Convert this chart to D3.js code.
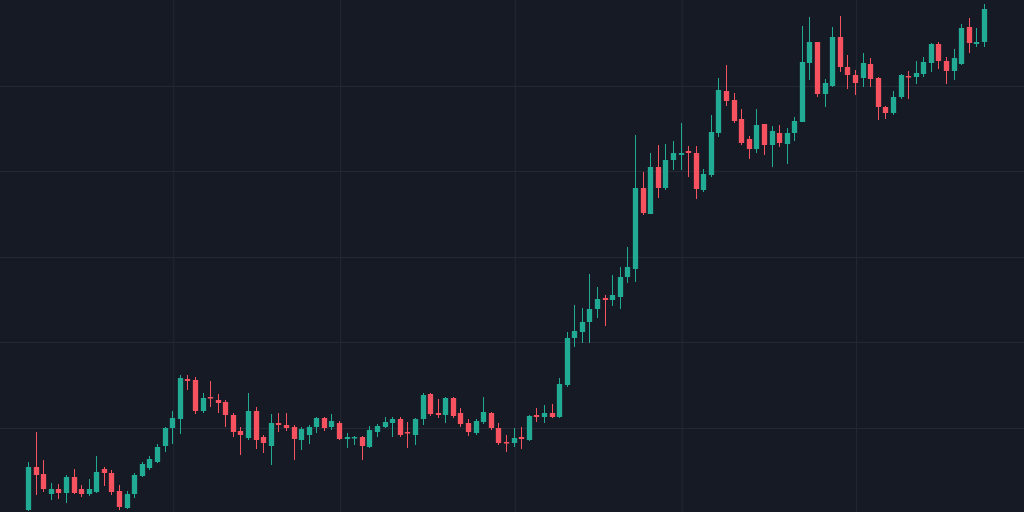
<!DOCTYPE html>
<html>
<head>
<meta charset="utf-8">
<script src="https://cdn.jsdelivr.net/npm/d3@7"></script>
<style>
  html, body { margin: 0; padding: 0; background: #161a25; }
  svg { display: block; }
</style>
</head>
<body>
<svg id="chart" width="1024" height="512"></svg>
<script>
// price values, one entry per bar
var opens = [2,45,38,18,23,19,35,23,18,20,43,39,21,4,18,36,44,50,66,84,93,133,132,101,115,112,110,97,81,74,
  101,75,66,89,87,85,72,77,85,94,85,89,73,74,75,65,80,85,89,93,80,77,93,118,99,97,114,99,89,79,
  90,99,84,70,69,75,72,97,95,99,95,127,174,180,190,203,214,212,215,235,243,324,298,345,324,352,357,361,359,322,
  337,379,421,412,393,373,363,388,367,379,368,379,390,449,470,418,426,475,445,437,434,448,434,405,399,415,436,435,438,449,
  468,451,441,448,485,468,470];
var highs = [50,80,52,29,28,37,43,27,33,56,45,42,27,21,39,50,56,68,85,101,137,137,135,119,131,118,112,99,85,119,
  105,77,98,99,99,87,85,87,95,95,98,91,79,76,76,86,88,95,95,95,90,94,119,119,113,115,115,104,93,93,
  115,100,89,77,84,85,97,104,107,108,134,180,207,204,238,225,217,237,245,265,377,340,359,367,368,371,389,366,366,343,
  397,434,447,419,403,376,403,388,386,387,384,395,486,495,470,433,485,496,457,442,459,454,435,406,421,438,441,451,455,469,
  470,455,463,488,494,484,508];
var lows = [1,17,20,12,13,9,18,15,16,19,26,17,2,3,14,35,42,49,60,68,78,122,98,99,105,99,85,75,57,72,
  63,59,47,80,81,52,62,68,79,81,82,72,64,67,52,64,75,84,75,75,64,67,87,96,94,89,94,85,76,77,
  88,82,67,60,65,63,71,90,89,94,94,125,165,169,169,194,186,206,203,229,230,297,298,314,322,342,342,335,313,320,
  335,375,406,389,367,353,359,357,345,365,348,371,390,432,415,405,425,440,423,417,425,425,392,393,397,413,413,428,435,440,
  443,428,432,447,459,465,465];
var closes = [45,37,23,23,19,35,19,18,23,40,39,20,5,18,37,48,53,65,84,94,134,131,101,114,114,109,97,80,77,101,
  72,69,89,87,84,73,83,85,94,84,91,73,75,75,66,82,86,90,93,77,79,93,117,98,97,114,96,88,80,91,
  100,84,69,69,74,73,96,95,99,95,128,174,181,190,203,213,212,217,235,245,324,299,345,324,352,359,359,359,323,338,
  380,422,411,391,369,363,387,367,381,369,379,391,450,470,418,429,475,445,437,429,449,433,405,399,415,437,435,439,450,468,
  451,441,454,484,469,470,503];

var gridPrices = [84, 170, 255, 341, 426];
var gridTimes = [19, 41, 64, 86, 109];

var up = '#22ab94', down = '#f7525f';
var width = 1024, height = 512;

var bars = closes.map(function (c, i) {
  return { i: i, open: opens[i], high: highs[i], low: lows[i], close: c };
});

var svg = d3.select('#chart');
var x = d3.scalePoint().domain(d3.range(bars.length)).range([28, 984]);
var y = d3.scaleLinear().domain([0, 512]).range([height, 0]);
var step = x.step();
var bodyW = Math.max(1, step * 0.7);

svg.append('rect').attr('width', width).attr('height', height).attr('fill', '#161a25');

// grid via axes with full-length ticks
svg.append('g')
  .call(d3.axisLeft(y).tickValues(gridPrices).tickSize(-width).tickFormat(''))
  .call(g => g.select('.domain').remove())
  .selectAll('line').attr('stroke', '#252935');

var tx = d3.scaleLinear().domain([0, bars.length - 1]).range([28, 984]);
svg.append('g')
  .attr('transform', `translate(0, ${height})`)
  .call(d3.axisBottom(tx).tickValues(gridTimes.map(v => v + 0.15)).tickSize(-height).tickFormat(''))
  .call(g => g.select('.domain').remove())
  .selectAll('line').attr('stroke', '#252935');

var candle = svg.append('g')
  .selectAll('g')
  .data(bars)
  .join('g')
  .attr('fill', d => d.close >= d.open ? up : down)
  .attr('stroke', d => d.close >= d.open ? up : down);

candle.append('line')
  .attr('x1', d => Math.round(x(d.i)) + 0.5)
  .attr('x2', d => Math.round(x(d.i)) + 0.5)
  .attr('y1', d => y(d.high))
  .attr('y2', d => y(d.low))
  .attr('stroke-width', 1);

candle.append('rect')
  .attr('stroke', 'none')
  .attr('x', d => Math.round(x(d.i)) + 0.5 - bodyW / 2)
  .attr('width', bodyW)
  .attr('y', d => y(Math.max(d.open, d.close)))
  .attr('height', d => Math.max(1.5, Math.abs(y(d.open) - y(d.close))));
</script>
</body>
</html>
